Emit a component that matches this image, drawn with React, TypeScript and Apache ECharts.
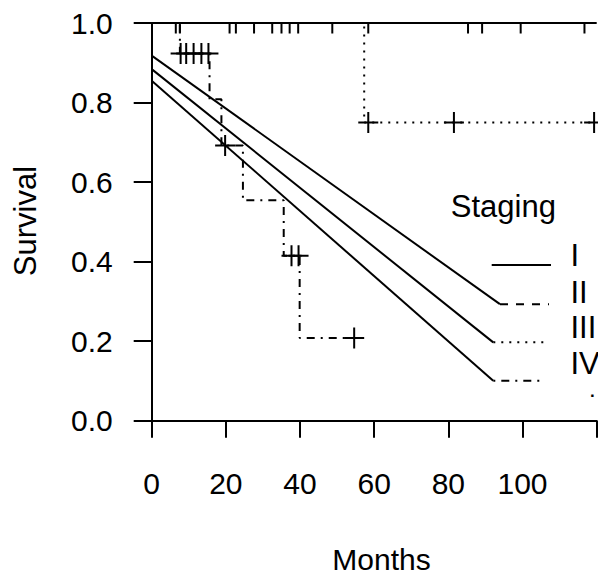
import React, { useEffect, useRef } from "react";
import * as echarts from "echarts";

// ---- axes ----
const xMin = 0;
const xMax = 120;
const xStep = 20;
const yMin = 0;
const yMax = 1;
const yStep = 0.2;

// ---- Kaplan–Meier curves (months, survival) ----
// Stage I (solid): no events
const stage1Months = [0, 120];
const stage1Surv = [1, 1];
const stage1CensorMonths = [6.5, 21.0, 27.6, 35.0, 39.5, 58.4, 85.3, 99.5, 116.7];
const stage1CensorSurv = [1, 1, 1, 1, 1, 1, 1, 1, 1];

// Stage II (dashed): no events
const stage2Months = [0, 89.1];
const stage2Surv = [1, 1];
const stage2CensorMonths = [7.6, 22.7, 32.5, 37.2, 48.7, 89.1];
const stage2CensorSurv = [1, 1, 1, 1, 1, 1];

// Stage III (dotted)
const stage3Months = [0, 57.3, 119.3];
const stage3Surv = [1, 0.75, 0.75];
const stage3CensorMonths = [58.4, 81.5, 119.3];
const stage3CensorSurv = [0.75, 0.75, 0.75];

// Stage IV (dot-dash)
const stage4Months = [0, 7.6, 15.6, 18.8, 24.6, 35.6, 39.9, 54.6];
const stage4Surv = [1, 0.923, 0.808, 0.692, 0.554, 0.415, 0.208, 0.208];
const stage4CensorMonths = [7.8, 9.3, 11.3, 13.4, 15.3, 19.8, 37.7, 39.6, 54.6];
const stage4CensorSurv = [0.923, 0.923, 0.923, 0.923, 0.923, 0.692, 0.415, 0.415, 0.208];

// ---- straight fitted lines ----
const fitAMonths = [0, 93.9];
const fitASurv = [0.918, 0.293];
const fitBMonths = [0, 92.1];
const fitBSurv = [0.884, 0.197];
const fitCMonths = [0, 92.1];
const fitCSurv = [0.855, 0.1006];

// ---- legend ----
const legendTitle = "Staging";
const legendLabels = ["I", "II", "III", "IV"];
const legendExtra = ".";
const xTitle = "Months";
const yTitle = "Survival";

const FONT = "'Liberation Sans', Arial, Helvetica, sans-serif";
const FS_TICK = 30;
const FS_TEXT = 31;

const pairs = (xs: number[], ys: number[]) => xs.map((x, i) => [x, ys[i]]);

const DASHED = [8, 8];
const DOTTED = [2, 6];
const DOTDASH = [2, 6, 8, 6];

function kmSeries(name: string, xs: number[], ys: number[], type: any) {
  return {
    name,
    type: "line",
    data: pairs(xs, ys),
    step: "end",
    symbol: "none",
    clip: true,
    lineStyle: { color: "#000", width: 2, type, cap: "butt" },
    z: 3,
  };
}

function censorSeries(name: string, xs: number[], ys: number[]) {
  return {
    name,
    type: "custom",
    clip: true,
    data: pairs(xs, ys),
    z: 4,
    renderItem: (params: any, api: any) => {
      const p = api.coord([api.value(0), api.value(1)]);
      return {
        type: "group",
        children: [
          {
            type: "line",
            shape: { x1: p[0] - 10, y1: p[1], x2: p[0] + 10, y2: p[1] },
            style: { stroke: "#000", lineWidth: 2 },
          },
          {
            type: "line",
            shape: { x1: p[0], y1: p[1] - 10.5, x2: p[0], y2: p[1] + 10.5 },
            style: { stroke: "#000", lineWidth: 2 },
          },
        ],
      };
    },
  };
}

function fitSeries(name: string, xs: number[], ys: number[]) {
  return {
    name,
    type: "line",
    data: pairs(xs, ys),
    symbol: "none",
    clip: true,
    lineStyle: { color: "#000", width: 2, type: "solid" },
    z: 2,
  };
}

export default function App() {
  const ref = useRef<HTMLDivElement>(null);

  useEffect(() => {
    if (!ref.current) return;
    const chart = echarts.init(ref.current, null, { renderer: "svg" });

    const legendStyles: any[] = [null, DASHED, DOTTED, DOTDASH];
    const legendSegs = [
      [491.7, 551, 265],
      [500, 549, 304.3],
      [493.3, 544, 342.3],
      [493.3, 540, 380.7],
    ];
    const legendTextY = [255, 292.5, 327, 363.5];

    const graphics: any[] = [];
    legendSegs.forEach((s, i) => {
      graphics.push({
        type: "line",
        shape: { x1: s[0], y1: s[2], x2: s[1], y2: s[2] },
        style: { stroke: "#000", lineWidth: 2, lineDash: legendStyles[i] },
        z: 10,
      });
      graphics.push({
        type: "text",
        x: 570.4,
        y: legendTextY[i],
        style: {
          text: legendLabels[i],
          font: `${FS_TEXT}px ${FONT}`,
          fill: "#000",
          textAlign: "left",
          textVerticalAlign: "middle",
        },
        z: 10,
      });
    });
    graphics.push({
      type: "text",
      x: 590,
      y: 391.5,
      style: {
        text: legendExtra,
        font: `bold 17px ${FONT}`,
        fill: "#000",
        textAlign: "left",
        textVerticalAlign: "middle",
      },
      z: 10,
    });
    graphics.push({
      type: "text",
      x: 450.8,
      y: 206,
      style: {
        text: legendTitle,
        font: `${FS_TEXT}px ${FONT}`,
        fill: "#000",
        textAlign: "left",
        textVerticalAlign: "middle",
      },
      z: 10,
    });
    graphics.push({
      type: "text",
      x: 381.5,
      y: 559.5,
      style: {
        text: xTitle,
        font: `30px ${FONT}`,
        fill: "#000",
        textAlign: "center",
        textVerticalAlign: "middle",
      },
      z: 10,
    });
    graphics.push({
      type: "text",
      x: 25,
      y: 221,
      rotation: Math.PI / 2,
      style: {
        text: yTitle,
        font: `${FS_TEXT}px ${FONT}`,
        fill: "#000",
        textAlign: "center",
        textVerticalAlign: "middle",
      },
      z: 10,
    });

    chart.setOption({
      animation: false,
      backgroundColor: "#fff",
      grid: { left: 151.7, top: 23, width: 445, height: 397.7, containLabel: false, outerBoundsMode: "none" },
      xAxis: {
        type: "value",
        min: xMin,
        max: xMax,
        interval: xStep,
        axisLine: { show: true, onZero: false, lineStyle: { color: "#000", width: 2 } },
        axisTick: { show: true, inside: false, length: 17, lineStyle: { color: "#000", width: 2 } },
        axisLabel: {
          show: true,
          margin: 47.5,
          color: "#000",
          fontSize: FS_TICK,
          fontFamily: FONT,
          formatter: (v: number) => (v === 120 ? "" : String(v)),
        },
        splitLine: { show: false },
      },
      yAxis: {
        type: "value",
        min: yMin,
        max: yMax,
        interval: yStep,
        axisLine: { show: true, onZero: false, lineStyle: { color: "#000", width: 2 } },
        axisTick: { show: true, inside: false, length: 18, lineStyle: { color: "#000", width: 2 } },
        axisLabel: {
          show: true,
          margin: 39,
          color: "#000",
          fontSize: FS_TICK,
          fontFamily: FONT,
          padding: [8, 0, 0, 0],
          formatter: (v: number) => v.toFixed(1),
        },
        splitLine: { show: false },
      },
      graphic: graphics,
      series: [
        fitSeries("fitA", fitAMonths, fitASurv),
        fitSeries("fitB", fitBMonths, fitBSurv),
        fitSeries("fitC", fitCMonths, fitCSurv),
        kmSeries("I", stage1Months, stage1Surv, "solid"),
        kmSeries("II", stage2Months, stage2Surv, DASHED),
        kmSeries("III", stage3Months, stage3Surv, DOTTED),
        kmSeries("IV", stage4Months, stage4Surv, DOTDASH),
        censorSeries("I+", stage1CensorMonths, stage1CensorSurv),
        censorSeries("II+", stage2CensorMonths, stage2CensorSurv),
        censorSeries("III+", stage3CensorMonths, stage3CensorSurv),
        censorSeries("IV+", stage4CensorMonths, stage4CensorSurv),
      ],
    });

    return () => chart.dispose();
  }, []);

  return (
    <div
      ref={ref}
      style={{ position: "fixed", left: 0, top: 0, width: 598, height: 576, overflow: "hidden", background: "#fff" }}
    />
  );
}
